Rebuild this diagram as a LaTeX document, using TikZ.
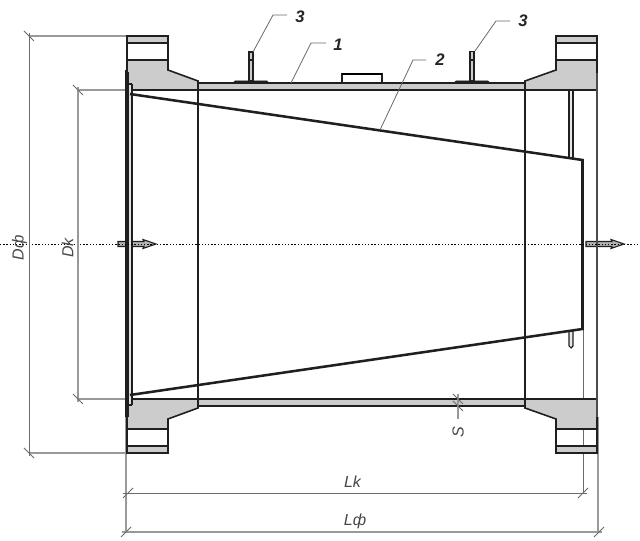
\documentclass[tikz,border=0pt]{standalone}
\usepackage{fontspec}
\setmainfont{Liberation Sans}
\definecolor{fillgray}{gray}{0.8}
\definecolor{edge}{gray}{0.12}
\definecolor{dimgray}{gray}{0.42}
\definecolor{extgray}{gray}{0.6}
\tikzset{
  outline/.style={draw=edge,line width=1.2pt},
  solid fill/.style={outline,fill=fillgray},
  thick edge/.style={draw=edge,line width=1.9pt},
  thin edge/.style={draw=edge,line width=0.8pt},
  dimline/.style={draw=dimgray,line width=0.6pt},
  extline/.style={draw=extgray,line width=0.8pt},
  tickmark/.style={draw=dimgray,line width=0.7pt},
  leader/.style={draw=dimgray,line width=0.6pt},
  centerline/.style={draw=black,line width=0.5pt,dash pattern=on 1.1pt off 1.3pt},
  dimtext/.style={font=\itshape\fontsize{12}{13}\selectfont,text=black!72,inner sep=0pt},
  numtext/.style={font=\itshape\bfseries\fontsize{12.5}{13}\selectfont,text=black!85,inner sep=0pt},
  axisarrow/.style={draw=edge,fill=black!30,line width=0.8pt,line join=miter},
}
\begin{document}
\begin{tikzpicture}[x=0.75pt,y=-0.75pt]
\useasboundingbox (0,0) rectangle (640,541);
\fill[white] (0,0) rectangle (640,541);

% extension lines under the geometry
\draw[extline] (29,36) -- (127,36);
\draw[extline] (29,453) -- (127,453);
\draw[extline] (78,90) -- (127,90);
\draw[extline] (78,399) -- (127,399);
\draw[extline] (126,417) -- (126,532);
\draw[extline] (598,417) -- (598,532);
\draw[dimline] (583,329) -- (583,493);

% pipe wall
\fill[fillgray] (198,83) rectangle (525,90);
\fill[fillgray] (198,399) rectangle (525,406);
\draw[outline] (198,83) -- (525,83);
\draw[outline] (198,90) -- (525,90);
\draw[outline] (198,399) -- (525,399);
\draw[outline] (198,406) -- (525,406);

% flanges: top left
\path[solid fill] (127,90) -- (127,60) -- (168,60) -- (168,70) -- (198,81) -- (198,90) -- cycle;
\draw[outline] (127,60) -- (127,36) -- (168,36) -- (168,60);
\path[solid fill] (127,36) rectangle (168,43);
% bottom left
\path[solid fill] (127,399) -- (127,429) -- (168,429) -- (168,419) -- (198,408) -- (198,399) -- cycle;
\draw[outline] (127,429) -- (127,453) -- (168,453) -- (168,429);
\path[solid fill] (127,446) rectangle (168,453);
% top right
\path[solid fill] (597,90) -- (597,60) -- (556,60) -- (556,70) -- (525,81) -- (525,90) -- cycle;
\draw[outline] (597,60) -- (597,36) -- (556,36) -- (556,60);
\path[solid fill] (556,36) rectangle (597,43);
% bottom right
\path[solid fill] (597,399) -- (597,429) -- (556,429) -- (556,419) -- (525,408) -- (525,399) -- cycle;
\draw[outline] (597,429) -- (597,453) -- (556,453) -- (556,429);
\path[solid fill] (556,446) rectangle (597,453);

% flange bores
\draw[thin edge] (198,81) -- (198,408);
\draw[thin edge] (525,81) -- (525,408);

% axis arrows
\path[axisarrow] (118,241.5) -- (144,241.5) -- (143,239.5) -- (156,244) -- (143,248.5) -- (144,246.5) -- (118,246.5) -- cycle;
\path[axisarrow] (586,241.5) -- (612,241.5) -- (611,239.5) -- (624,244) -- (611,248.5) -- (612,246.5) -- (586,246.5) -- cycle;

% left end plate
\fill[fillgray!60] (128,84) rectangle (132,405);
\draw[thin edge] (132,84) -- (132,405);
\draw[thin edge] (128,84) -- (132,84);
\draw[thin edge] (128,405) -- (132,405);
\draw[draw=edge,line width=1.9pt] (127.3,72) -- (127.3,417);
\draw[draw=edge,line width=0.6pt] (125.5,70) -- (125.5,417);

% right end plate
\draw[draw=black!70,line width=2.1pt] (597,73) -- (597,417);

% internal rods near the cone outlet
\path[draw=edge,fill=fillgray!50,line width=0.8pt] (569,90) -- (569,158) -- (573,158) -- (573,90) -- cycle;
\path[draw=edge,fill=fillgray!50,line width=0.8pt] (569,331) -- (569,346) -- (571,348) -- (573,346) -- (573,331);

% cone
\draw[thick edge,line join=miter] (130,94) -- (582.5,160) -- (582.5,329) -- (130,395);

% studs and pad
\path[draw=edge,fill=fillgray,line width=0.8pt] (249,52) rectangle (253,81);
\draw[thin edge] (249,60) -- (253,60);
\path[draw=edge,fill=edge,line width=0.5pt] (233,83) -- (235,81) -- (267,81) -- (269,83) -- cycle;
\path[draw=edge,fill=fillgray,line width=0.8pt] (470,51.5) rectangle (474,81);
\draw[thin edge] (470,60) -- (474,60);
\path[draw=edge,fill=edge,line width=0.5pt] (454,83) -- (456,81) -- (488,81) -- (490,83) -- cycle;
\draw[thin edge] (342,83) -- (342,74) -- (382,74) -- (382,83);
\draw[draw=black,line width=1.7pt] (342,74) -- (382,74);

% axis
\draw[centerline] (0,244) -- (640,244);

% dimension lines
\draw[dimline] (29,33) -- (29,456);
\draw[extline] (78,87) -- (78,402);
\draw[dimline] (123,493) -- (587,493);
\draw[extline] (122,532) -- (602,532);
\draw[extline] (458,394) -- (458,419);

% ticks
\foreach \tx/\ty in {29/36,78/90} \draw[tickmark] (\tx-5,\ty-5) -- (\tx+5,\ty+5);
\foreach \tx/\ty in {29/453,78/399} \draw[tickmark] (\tx-5,\ty-5) -- (\tx+5,\ty+5);
\foreach \tx/\ty in {128/493,583/493,126/532,599/532} \draw[tickmark] (\tx-5,\ty+5) -- (\tx+5,\ty-5);
\foreach \ty in {399,406} \draw[tickmark] (453,\ty-5) -- (463,\ty+5);

% leaders
\coordinate (a3) at (253,52);
\coordinate (a3k) at (273,15);
\coordinate (a3e) at (287,15);
\coordinate (b3) at (475,51);
\coordinate (b3k) at (496,21);
\coordinate (b3e) at (510,21);
\coordinate (a1) at (291,83);
\coordinate (a1k) at (311,43);
\coordinate (a1e) at (326,43);
\coordinate (a2) at (380,130);
\coordinate (a2k) at (413,60);
\coordinate (a2e) at (426,60);
\draw[leader] (a3) -- (a3k) -- (a3e);
\draw[leader] (b3) -- (b3k) -- (b3e);
\draw[leader] (a1) -- (a1k) -- (a1e);
\draw[leader] (a2) -- (a2k) -- (a2e);

% labels
\node[numtext] (n3a) at (300,17) {3};
\node[numtext] (n3b) at (523,21) {3};
\node[numtext] (n1) at (338,45) {1};
\node[numtext] (n2) at (440,60) {2};
\node[dimtext,rotate=90] (dphi) at (19.5,248) {Dф};
\node[dimtext,rotate=90] (dk) at (67.5,248) {Dk};
\node[dimtext] (lk) at (352.5,482) {Lk};
\node[dimtext] (lphi) at (355,521) {Lф};
\node[dimtext,rotate=90] (s) at (458,432) {S};
\end{tikzpicture}
\end{document}
